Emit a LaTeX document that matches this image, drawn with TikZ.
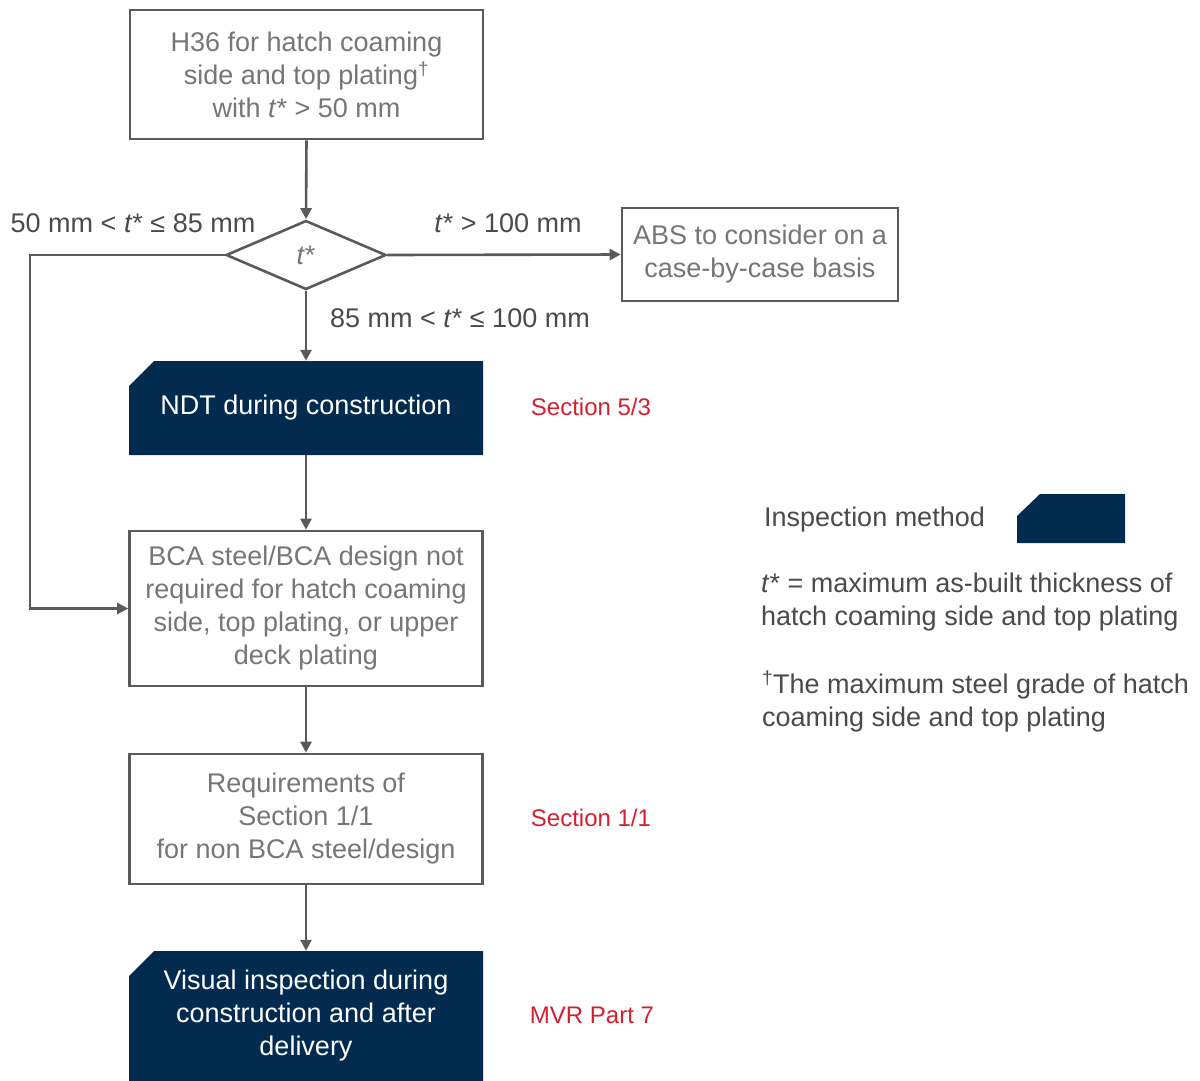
\documentclass[tikz,border=0pt]{standalone}
\usepackage{fontspec}
\setmainfont{Liberation Sans}
\usetikzlibrary{arrows.meta,shapes.geometric}
\definecolor{edgegray}{HTML}{5A5A5A}
\definecolor{boxtext}{HTML}{767676}
\definecolor{labeltext}{HTML}{4A4A4A}
\definecolor{navy}{HTML}{022B4F}
\definecolor{secred}{HTML}{D2202F}
\begin{document}
\begin{tikzpicture}[x=1pt,y=-1pt,
  txt/.style={font=\fontsize{27}{33}\selectfont, inner sep=0pt},
  plainbox/.style={txt, draw=edgegray, line width=2.6pt, fill=white, text=boxtext,
    align=center, minimum width=353pt},
  slot/.style={inner sep=0pt, minimum width=354pt},
  methodtxt/.style={txt, text=white, align=center},
  decision/.style={txt, diamond, draw=edgegray, line width=2.6pt, text=boxtext,
    minimum width=160pt, minimum height=69pt, aspect=2.3},
  lbl/.style={txt, text=labeltext},
  sec/.style={txt, text=secred, font=\fontsize{24}{28}\selectfont},
  arr/.style={draw=edgegray, line width=2.6pt, -{Triangle[length=11pt,width=11pt]}},
  navyfill/.style={fill=navy}]
\useasboundingbox (0,0) rectangle (1200,1080);
\clip (0,0) rectangle (1200,1080);

% flow boxes
\node[plainbox, minimum height=129pt] (start) at (306.5,74.5)
  {H36 for hatch coaming\\side and top plating\textsuperscript{†}\\with \textit{t}* > 50 mm};
\node[decision] (dec) at (306,255) {\textit{t}*};
\node[plainbox, minimum width=276pt, minimum height=93pt] (abs) at (760,254.5)
  {ABS to consider on a\\case-by-case basis};

% inspection-method boxes: rectangle slots with a chamfered navy fill
\node[slot, minimum height=94pt] (ndt) at (306,408) {};
\fill[navyfill] (129,386) -- (154,361) -- (483,361) -- (483,455) -- (129,455) -- cycle;
\node[methodtxt] (ndttxt) at (ndt.center) {NDT during construction};

\node[plainbox, minimum height=155pt] (bca) at (306,608.5)
  {BCA steel/BCA design not\\required for hatch coaming\\side, top plating, or upper\\deck plating};
\node[plainbox, minimum height=130pt] (req) at (306,819)
  {Requirements of\\Section 1/1\\for non BCA steel/design};

\node[slot, minimum height=160pt] (vis) at (306,1031) {};
\fill[navyfill] (129,976) -- (154,951) -- (483,951) -- (483,1111) -- (129,1111) -- cycle;
\node[methodtxt] (vistxt) at (306,1016)
  {Visual inspection during\\construction and after\\delivery};

% branch labels
\node[lbl] (lowlbl) at (133,223) {50 mm < \textit{t}* ≤ 85 mm};
\node[lbl] (highlbl) at (508,223) {\textit{t}* > 100 mm};
\node[lbl] (midlbl) at (460,318) {85 mm < \textit{t}* ≤ 100 mm};

% section references
\node[sec] (s53) at (591,407) {Section 5/3};
\node[sec] (s11) at (591,818) {Section 1/1};
\node[sec] (mvr) at (592,1015) {MVR Part 7};

% connectors
\draw[arr] (start.south) -- (dec.north);
\draw[arr] (dec.east) -- (abs.west);
\draw[arr] (dec.south) -- (ndt.north);
\draw[arr] (ndt.south) -- (bca.north);
\coordinate (bend) at (30,255);
\draw[arr] (dec.west) -- (bend) |- (bca.west);
\draw[arr] (bca.south) -- (req.north);
\draw[arr] (req.south) -- (vis.north);

% legend
\node[lbl, anchor=west] (legtxt) at (764,520) {Inspection method};
\node[inner sep=0pt, minimum width=108pt, minimum height=49pt] (legbox) at (1071,518.5) {};
\fill[navyfill] (1017,516) -- (1040,494) -- (1125,494) -- (1125,543) -- (1017,543) -- cycle;
\node[lbl, anchor=north west, align=left] (tdef) at (761,573)
  {\textit{t}* = maximum as-built thickness of\\hatch coaming side and top plating};
\node[lbl, anchor=north west, align=left] (dagdef) at (762,671)
  {\textsuperscript{†}The maximum steel grade of hatch\\coaming side and top plating};
\end{tikzpicture}
\end{document}
